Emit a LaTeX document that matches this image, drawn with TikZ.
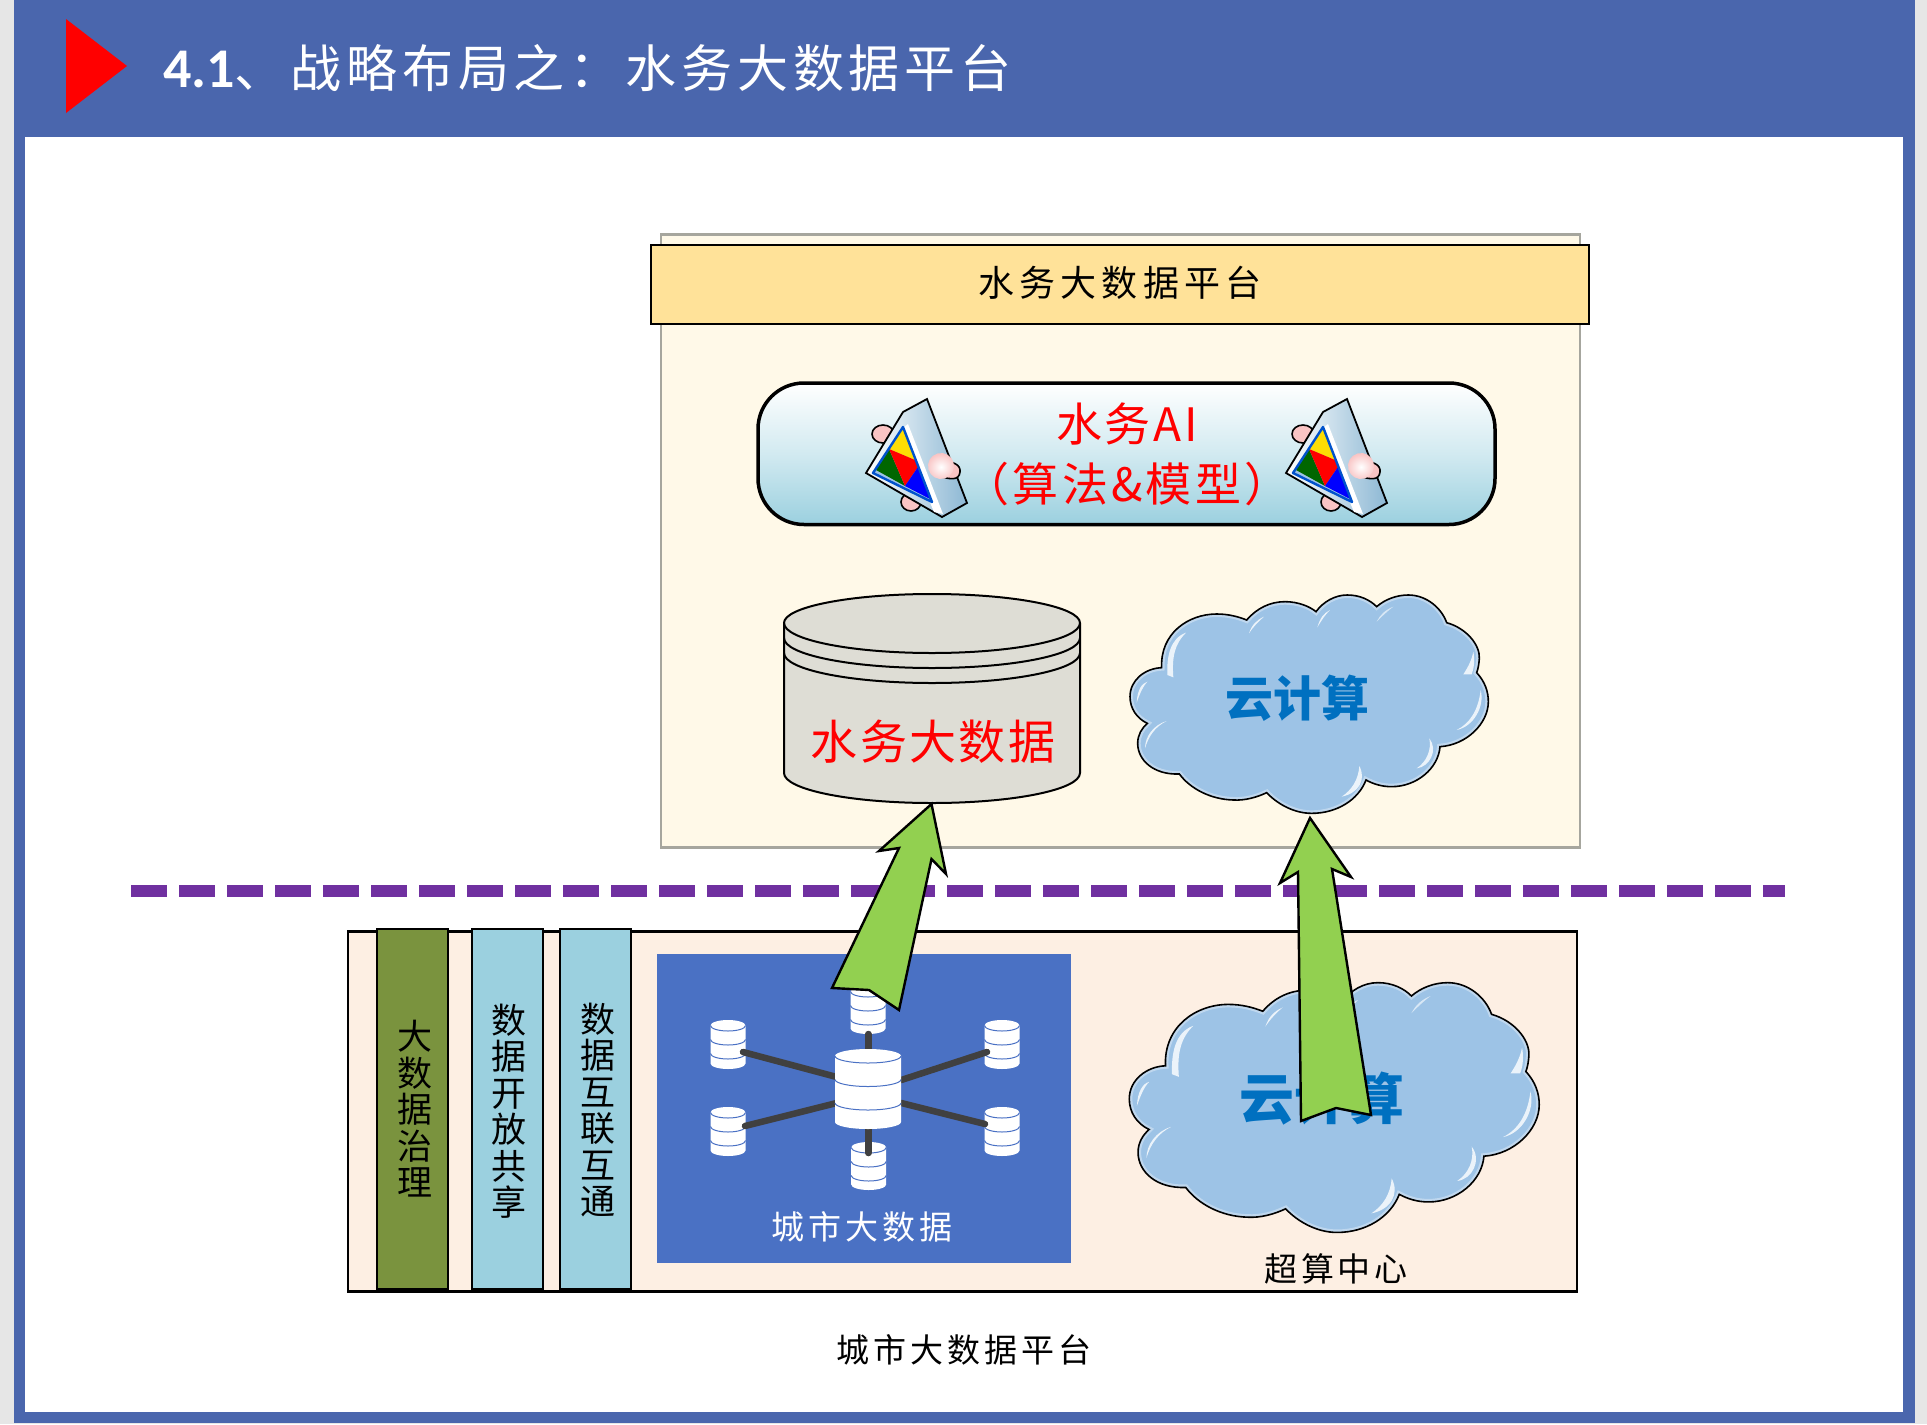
\documentclass[tikz,border=0pt]{standalone}
\usepackage{fontspec}
\setmainfont{Noto Sans CJK SC}
\newfontfamily\latinhead{Carlito}
\usetikzlibrary{shapes.geometric}
\definecolor{framegray}{HTML}{E6E6E6}
\definecolor{headblue}{HTML}{4A66AD}
\definecolor{creamfill}{HTML}{FFF9E8}
\definecolor{creamline}{HTML}{A6A69E}
\definecolor{titlefill}{HTML}{FFE299}
\definecolor{pinkfill}{HTML}{FDEFE3}
\definecolor{olivefill}{HTML}{7A933E}
\definecolor{tealfill}{HTML}{9BD0DF}
\definecolor{cityblue}{HTML}{4A71C4}
\definecolor{dashpurple}{HTML}{7030A0}
\definecolor{arrowgreen}{HTML}{92D050}
\definecolor{cylfill}{HTML}{DEDDD5}
\definecolor{cloudfill}{HTML}{9DC3E6}
\definecolor{cloudtext}{HTML}{0070C0}
\definecolor{linkgray}{HTML}{404040}
\definecolor{iconblue}{HTML}{8DB8D4}
\definecolor{blobpink}{HTML}{F9C4C4}
\newcommand{\sized}[3]{{\fontsize{#1pt}{#1pt}\selectfont\addfontfeature{LetterSpace=#2}#3}}
\newcommand{\cloudshape}{(155,263) .. controls (150,160) and (235,102) .. (320,102) .. controls (355,102) and (385,110) .. (410,120)
 .. controls (440,85) and (480,65) .. (525,65) .. controls (565,65) and (600,80) .. (618,95)
 .. controls (640,65) and (675,45) .. (712,45) .. controls (750,45) and (780,60) .. (800,80)
 .. controls (825,58) and (860,45) .. (895,45) .. controls (950,45) and (995,85) .. (1010,128)
 .. controls (1070,145) and (1110,195) .. (1108,235) .. controls (1107,250) and (1105,265) .. (1100,278)
 .. controls (1125,305) and (1135,335) .. (1135,365) .. controls (1135,430) and (1070,495) .. (990,500)
 .. controls (985,565) and (920,620) .. (845,620) .. controls (815,620) and (790,612) .. (768,600)
 .. controls (745,660) and (680,700) .. (605,700) .. controls (550,700) and (500,670) .. (470,638)
 .. controls (440,652) and (405,662) .. (370,660) .. controls (300,658) and (240,625) .. (208,582)
 .. controls (130,585) and (83,540) .. (83,490) .. controls (83,465) and (95,445) .. (112,430)
 .. controls (80,415) and (60,385) .. (60,350) .. controls (60,300) and (105,265) .. (155,263) -- cycle}
\newcommand{\cloudart}{%
 \fill[cloudfill] \cloudshape;
 \begin{scope}
  \clip \cloudshape;
  \draw[white,opacity=.35,line width=6pt] \cloudshape;
 \end{scope}
 \fill[white,opacity=.8] (228,158) .. controls (180,175) and (170,230) .. (172,285) -- (190,292) .. controls (185,230) and (195,190) .. (228,158) -- cycle;
 \fill[white,opacity=.8] (417,160) .. controls (425,135) and (440,120) .. (462,110) .. controls (445,125) and (430,140) .. (417,160) -- cycle;
 \fill[white,opacity=.8] (622,142) .. controls (630,115) and (640,100) .. (660,90) .. controls (645,105) and (635,120) .. (622,142) -- cycle;
 \fill[white,opacity=.6] (800,125) .. controls (810,105) and (825,90) .. (850,80) .. controls (830,95) and (815,110) .. (800,125) -- cycle;
 \fill[white,opacity=.8] (80,368) .. controls (82,330) and (95,310) .. (112,305) .. controls (98,320) and (90,340) .. (80,368) -- cycle;
 \fill[white,opacity=.8] (105,505) .. controls (105,470) and (130,435) .. (170,423) .. controls (135,440) and (115,470) .. (105,505) -- cycle;
 \fill[white,opacity=.8] (1060,283) .. controls (1075,260) and (1085,240) .. (1090,215) .. controls (1095,240) and (1092,265) .. (1085,283) -- cycle;
 \fill[white,opacity=.8] (1040,450) .. controls (1080,430) and (1105,390) .. (1112,330) .. controls (1125,380) and (1090,440) .. (1040,450) -- cycle;
 \fill[white,opacity=.8] (920,565) .. controls (950,545) and (965,510) .. (958,475) .. controls (985,510) and (960,560) .. (920,565) -- cycle;
 \fill[white,opacity=.8] (695,650) .. controls (725,630) and (745,600) .. (748,558) .. controls (770,600) and (745,640) .. (695,650) -- cycle;
 \draw[black,line width=1.6pt] \cloudshape;}
\newcommand{\drum}[6]{%
 \fill[white] (#1-#4,#2+#5) arc (180:360:#4 and #5) -- (#1+#4,#3-#5) arc (0:180:#4 and #5) -- cycle;
 \draw[cityblue,line width=1pt] (#1-#4,#2+#5) arc (180:0:#4 and #5);
 \draw[cityblue,line width=1pt] (#1-#4,#2+#5+#6) arc (180:0:#4 and #5);
 \draw[cityblue,line width=1pt] (#1-#4,#2+#5+#6+#6) arc (180:0:#4 and #5);}
\newcommand{\puzzleart}{%
 \draw[black,line width=1.6pt,fill=blobpink] (883,434) ellipse (11 and 9);
 \draw[black,line width=1.6pt,fill=blobpink] (911,502) ellipse (10 and 9);
 \draw[black,line width=1.8pt,left color=white,middle color=white,right color=iconblue] (927,399) -- (903,412) -- (866,473) -- (942,517) -- (967,503) -- cycle;
 \fill[white] (908,424) -- (943,514) -- (934,512) -- (900,430) -- cycle;
 \fill[cloudfill] (903,427) -- (932,502) -- (873,473) -- cycle;
 \fill[yellow!80!orange] (903,429) -- (915,460) -- (889,449) -- cycle;
 \fill[green!40!black] (889,449) -- (905,486) -- (876,470) -- cycle;
 \fill[red] (889,449) -- (915,460) -- (918,467) -- (905,486) -- cycle;
 \fill[blue] (918,467) -- (930,499) -- (905,486) -- cycle;
 \draw[blue!60!cyan!80!black,line width=2.4pt,line join=round] (903,427) -- (932,502) -- (873,473) -- cycle;
 \draw[black,line width=1.6pt,fill=blobpink] (943,460) .. controls (952,462) and (961,464) .. (960,472) .. controls (959,481) and (950,479) .. (942,477) -- cycle;
 \shade[inner color=white,outer color=blobpink,rotate around={15:(941,466)}] (941,466) ellipse (13 and 13);}
\begin{document}
\begin{tikzpicture}[x=1pt,y=-1pt,
  rectbox/.style={rectangle,inner sep=0pt,outer sep=0pt,draw=black,line width=2.6pt},
  label/.style={inner sep=0pt,outer sep=0pt,align=center},
  blockarrow/.style={draw=black,line width=2.4pt,fill=arrowgreen,line join=miter},
  link/.style={draw=linkgray,line width=6.5pt,line cap=round},
  barlabel/.style={label,text=black,font=\fontsize{35pt}{36.5pt}\selectfont}]
\useasboundingbox (0,0) rectangle (1927,1424);
% slide frame
\fill[framegray] (0,0) rectangle (1927,1424);
\fill[headblue] (13.5,0) rectangle (1914.5,1422.5);
\fill[white] (25,137) rectangle (1903,1411.5);
\fill[red] (66,19) -- (127,66) -- (66,113) -- cycle;
\node[label,anchor=base west,text=white] (headline) at (163,87)
  {\sized{56}{0}{\latinhead\bfseries 4.1}\sized{51}{9.5}{、战略布局之：水务大数据平台}};
% upper panel
\node[rectbox,draw=creamline,fill=creamfill,minimum width=919pt,minimum height=613pt] (waterpanel) at (1120.5,541) {};
\node[rectbox,fill=titlefill,minimum width=938pt,minimum height=79pt,text=black] (waterhead) at (1120,284.5) {};
\node[label,text=black] (waterheadtext) at (1120,282.5) {\sized{36}{14}{水务大数据平台}};
% AI pill
\shade[top color=white,bottom color=tealfill,middle color=white!55!tealfill,draw=black,line width=3.5pt,rounded corners=46pt]
  (758,383) rectangle (1495,524.5);
\node[label,text=red] (aione) at (1127,424) {\sized{46}{6}{水务AI}};
\node[label,text=red] (aitwo) at (1127,484) {\sized{46}{7}{（算法\&模型）}};
\puzzleart
\begin{scope}[shift={(420,0)}]\puzzleart\end{scope}
% cylinder
\path[draw=black,line width=2pt,fill=cylfill] (784,623) -- (784,773) arc (180:0:148 and 30) -- (1080,623) arc (0:-180:148 and 29) -- cycle;
\draw[black,line width=2pt] (784,623) arc (180:0:148 and 30);
\draw[black,line width=2pt] (784,638) arc (180:0:148 and 30);
\draw[black,line width=2pt] (784,653) arc (180:0:148 and 30);
\node[label,text=red] (waterdata) at (933,742) {\sized{47}{5}{水务大数据}};
% upper cloud
\begin{scope}[shift={(1110,580)},scale=1/3]\cloudart\end{scope}
\node[label,text=cloudtext] (cloudup) at (1297,698) {\sized{48}{0}{\bfseries 云计算}};
% dashed separator
\coordinate (dashstart) at (131,890.5);
\coordinate (dashend) at (1785,890.5);
\draw[dashpurple,line width=12pt,dash pattern=on 36pt off 12pt] (dashstart) -- (dashend);
% lower panel
\node[rectbox,fill=pinkfill,minimum width=1229pt,minimum height=360pt] (citypanel) at (962.5,1111.6) {};
\node[rectbox,fill=olivefill,minimum width=71pt,minimum height=360pt] (barone) at (412.5,1108.8) {};
\node[rectbox,fill=tealfill,minimum width=71pt,minimum height=360pt] (bartwo) at (507.5,1108.8) {};
\node[rectbox,fill=tealfill,minimum width=71pt,minimum height=360pt] (barthree) at (595.5,1108.8) {};
\node[barlabel] (bartextone) at (415,1109) {大\\数\\据\\治\\理};
\node[barlabel] (bartexttwo) at (509,1111) {数\\据\\开\\放\\共\\享};
\node[barlabel] (bartextthree) at (597.5,1110) {数\\据\\互\\联\\互\\通};
% city data block
\node[rectangle,inner sep=0pt,fill=cityblue,minimum width=414pt,minimum height=309pt] (cityblock) at (864,1108.3) {};
\drum{728}{1020}{1069}{17.5}{5.5}{14}
\drum{1002}{1020}{1069}{17.5}{5.5}{14}
\drum{728}{1107}{1156}{17.5}{5.5}{14}
\drum{1002}{1107}{1156}{17.5}{5.5}{14}
\drum{868}{986}{1034}{17.5}{5.5}{14}
\drum{868.7}{1142}{1190}{17.5}{5.5}{14}
\coordinate (hubnw) at (836.7,1077);
\coordinate (hubne) at (901.3,1080);
\coordinate (hubsw) at (836.7,1103);
\coordinate (hubse) at (901.3,1103);
\coordinate (hubn) at (868.3,1049);
\coordinate (hubs) at (868.3,1129);
\coordinate (spokenw) at (743,1052);
\coordinate (spokene) at (987,1052);
\coordinate (spokesw) at (745,1126);
\coordinate (spokese) at (985,1124);
\coordinate (spoken) at (868.3,1034);
\coordinate (spokes) at (868.3,1153);
\draw[link] (spokenw) -- (hubnw);
\draw[link] (spokene) -- (hubne);
\draw[link] (spokesw) -- (hubsw);
\draw[link] (spokese) -- (hubse);
\draw[link] (spoken) -- (hubn);
\draw[link] (spokes) -- (hubs);
\drum{868}{1049}{1129}{33}{7}{23.5}
\node[label,text=white] (citydata) at (862,1227) {\sized{33}{12}{城市大数据}};
% lower cloud
\begin{scope}[shift={(1106.4,965.5)},scale=1.144/3]\cloudart\end{scope}
\node[label,text=cloudtext] (clouddown) at (1322,1099) {\sized{55}{0}{\bfseries 云计算}};
\node[label,text=black] (hpc) at (1336,1269) {\sized{33}{12}{超算中心}};
\node[label,text=black] (cityplatform) at (964,1350) {\sized{33}{12}{城市大数据平台}};
% block arrows
\draw[blockarrow] (931.5,804) -- (946,874) -- (931.5,859) -- (899,1010) -- (869,990) -- (832,988) -- (899,848) -- (879,851) -- cycle;
\draw[blockarrow] (1310,818) -- (1351,877) -- (1332,869) -- (1371,1115) -- (1336,1108) -- (1301,1121) -- (1298,872) -- (1280,883) -- cycle;
\end{tikzpicture}
\end{document}
